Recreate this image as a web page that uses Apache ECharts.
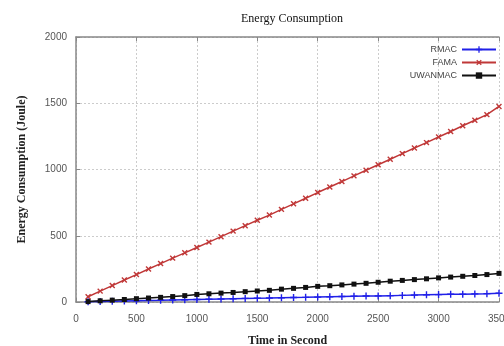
<!DOCTYPE html>
<html>
<head>
<meta charset="utf-8">
<script src="https://cdn.jsdelivr.net/npm/echarts@6/dist/echarts.min.js"></script>
<style>html,body{margin:0;padding:0;background:#fff}#c{width:504px;height:346px}</style>
</head>
<body>
<div id="c"></div>
<script>
var times = [100,200,300,400,500,600,700,800,900,1000,1100,1200,1300,1400,1500,1600,1700,1800,1900,2000,2100,2200,2300,2400,2500,2600,2700,2800,2900,3000,3100,3200,3300,3400,3500];
var rmac = [2,4,6,8,10,12,13,15,17,19,21,23,25,27,29,30,32,34,35,37,39,41,43,45,46,48,50,52,54,56,58,59,61,63,66];
var fama = [40,82,124,166,207,249,290,331,371,411,452,493,535,576,617,656,699,741,783,826,868,909,952,994,1036,1077,1120,1162,1203,1245,1287,1330,1372,1414,1476];
var uwanmac = [3,9,14,19,25,30,35,41,48,57,62,67,72,78,83,88,97,103,110,118,123,129,135,141,149,157,163,169,175,182,188,194,200,207,216];
var xTicks = [0,500,1000,1500,2000,2500,3000,3500];
var yTicks = [0,500,1000,1500,2000];
var seriesNames = ['RMAC','FAMA','UWANMAC'];

function pairs(vals){ return times.map(function(t,i){ return [t, vals[i]]; }); }
var plusPath = 'path://M4,0H6V4H10V6H6V10H4V6H0V4H4Z';

var chart = echarts.init(document.getElementById('c'), null, {renderer:'canvas'});
chart.setOption({
  animation:false,
  backgroundColor:'#fff',
  title:{text:'Energy Consumption', left:236, top:8,
    textStyle:{fontFamily:'Liberation Serif', fontSize:12, fontWeight:'normal', color:'#111'}},
  legend:{orient:'vertical', right:2, top:40, align:'right', itemGap:4, itemWidth:34, itemHeight:8,
    textStyle:{fontFamily:'Liberation Sans', fontSize:9, color:'#444'},
    data:seriesNames},
  grid:{left:76, right:5, top:37, bottom:44, containLabel:false, outerBoundsMode:'none'},
  xAxis:[{type:'value', min:0, max:3500, interval:500, position:'bottom',
    name:'Time in Second', nameLocation:'middle', nameGap:33,
    nameTextStyle:{fontFamily:'Liberation Serif', fontSize:12, fontWeight:'bold', color:'#222'},
    axisLine:{show:true, lineStyle:{color:'#888', width:1.5}},
    axisTick:{show:true, inside:true, length:4, lineStyle:{color:'#888'}},
    axisLabel:{fontFamily:'Liberation Sans', fontSize:10, color:'#555', margin:12,
      formatter:function(v){ return xTicks.indexOf(v)>=0 ? String(v) : ''; }},
    splitLine:{show:true, lineStyle:{color:'#ccc', type:[2,2], width:1}}},
   {type:'value', min:0, max:3500, interval:500, position:'top',
    axisLine:{show:true, lineStyle:{color:'#888', width:1.5}},
    axisTick:{show:true, inside:true, length:4, lineStyle:{color:'#888'}},
    axisLabel:{show:false}, splitLine:{show:false}}],
  yAxis:{type:'value', min:0, max:2000, interval:500,
    name:'Energy Consumption (Joule)', nameLocation:'middle', nameGap:48,
    nameTextStyle:{fontFamily:'Liberation Serif', fontSize:12, fontWeight:'bold', color:'#222'},
    axisLine:{show:true, lineStyle:{color:'#888', width:1.5}},
    axisTick:{show:true, inside:true, length:4, lineStyle:{color:'#888'}},
    axisLabel:{fontFamily:'Liberation Sans', fontSize:10, color:'#555', margin:9,
      formatter:function(v){ return yTicks.indexOf(v)>=0 ? String(v) : ''; }},
    splitLine:{show:true, lineStyle:{color:'#ccc', type:[2,2], width:1}}},
  series:[
    {name:'RMAC', type:'line', data:pairs(rmac), symbol:plusPath, symbolSize:7,
     lineStyle:{color:'#2020e8', width:1.5}, itemStyle:{color:'#2020e8'}, color:'#2020e8', z:3},
    {name:'FAMA', type:'line', data:pairs(fama), symbol:plusPath, symbolSize:7, symbolRotate:45,
     lineStyle:{color:'#c03838', width:1.5}, itemStyle:{color:'#c03838'}, color:'#c03838', z:2},
    {name:'UWANMAC', type:'line', data:pairs(uwanmac), symbol:'rect', symbolSize:5,
     lineStyle:{color:'#111', width:1.5}, itemStyle:{color:'#111'}, color:'#111', z:4}
  ]
});
</script>
</body>
</html>
